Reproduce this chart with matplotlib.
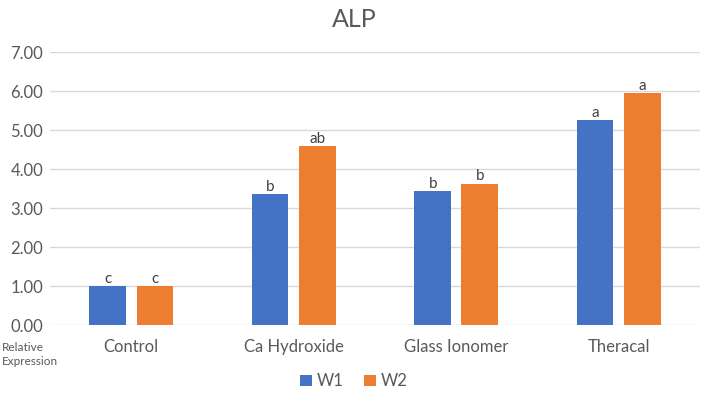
import numpy as np
import matplotlib
matplotlib.use('Agg')
import matplotlib.pyplot as plt

plt.rcParams['font.family'] = ['Lato', 'DejaVu Sans']

categories = ['Control', 'Ca Hydroxide', 'Glass Ionomer', 'Theracal']
w1 = [1.00, 3.36, 3.43, 5.25]
w2 = [1.00, 4.59, 3.63, 5.95]
w1_letters = ['c', 'b', 'b', 'a']
w2_letters = ['c', 'ab', 'b', 'a']
yticks = [0, 1, 2, 3, 4, 5, 6, 7]

txt = '#595959'
fig = plt.figure(figsize=(7.08, 3.98), dpi=100)
ax = fig.add_axes([0.0706, 0.183, 0.918, 0.686])

x = np.arange(len(categories))
bw = 0.225
off = 0.145
b1 = ax.bar(x - off, w1, bw, color='#4472C4', label='W1', zorder=3)
b2 = ax.bar(x + off, w2, bw, color='#ED7D31', label='W2', zorder=3)

for bars, letters in ((b1, w1_letters), (b2, w2_letters)):
    for b, l in zip(bars, letters):
        ax.text(b.get_x() + b.get_width() / 2, b.get_height() + 0.01, l,
                ha='center', va='bottom', fontsize=11, color='#404040')

ax.set_xlim(-0.5, len(categories) - 0.5)
ax.set_ylim(0, 7)
ax.set_yticks(yticks)
ax.set_yticklabels(['%.2f' % v for v in yticks])
ax.set_xticks(x)
ax.set_xticklabels(categories)
ax.tick_params(axis='both', length=0, labelsize=12, colors=txt)
ax.tick_params(axis='y', pad=5)
ax.tick_params(axis='x', pad=10)
ax.grid(axis='y', color='#d9d9d9', linewidth=1, zorder=0)
for s in ax.spines.values():
    s.set_visible(False)

fig.text(0.5, 0.95, 'ALP', ha='center', va='center', fontsize=18, color=txt)
fig.text(0.002, 0.11, 'Relative\nExpression', ha='left', va='center',
         fontsize=8.5, color=txt, linespacing=1.35)

fig.legend(handles=[b1, b2], loc='center', bbox_to_anchor=(0.5, 0.042), ncol=2,
           frameon=False, fontsize=12, labelcolor=txt, handlelength=0.7,
           handleheight=0.7, handletextpad=0.3, columnspacing=1.2)

fig.savefig('out.png', dpi=100)
